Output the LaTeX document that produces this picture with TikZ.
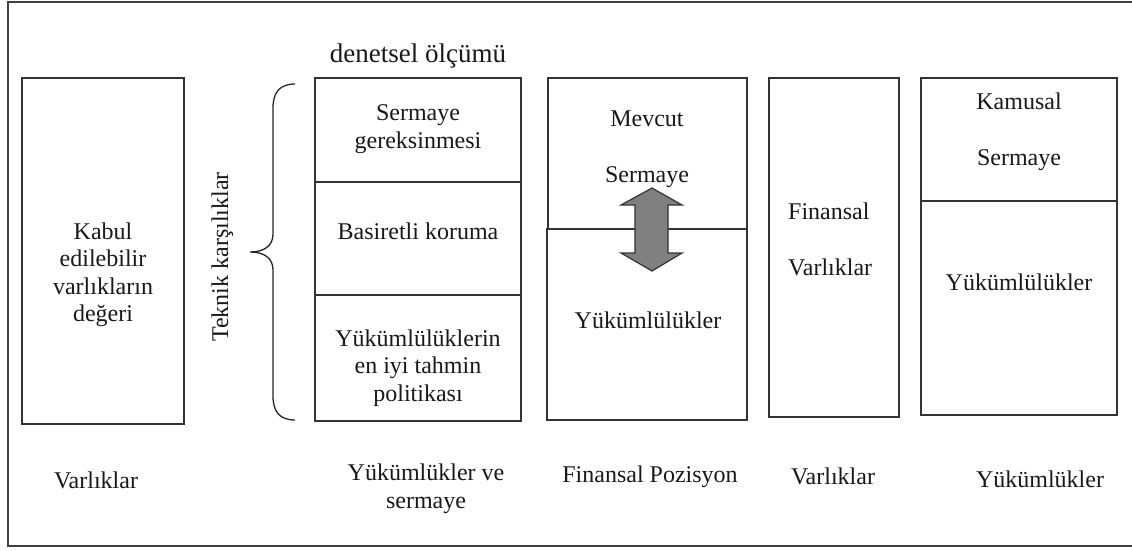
\documentclass[tikz,border=0pt]{standalone}
\usepackage{fontspec}
\setmainfont{Liberation Serif}
\begin{document}
\begin{tikzpicture}[x=1pt,y=-1pt,
  box/.style={draw=black!80,line width=1.2pt,inner sep=0pt,fill=none},
  lbl/.style={font=\fontsize{24}{27.5}\selectfont,text=black!90,inner sep=0pt,align=center},
  frame/.style={draw=black!75,line width=2.2pt}]
\useasboundingbox (0,0) rectangle (1132,550);
\fill[white] (0,0) rectangle (1132,550);
% outer frame (right side cut off)
\draw[frame] (1140,2) -- (8,2) -- (8,546) -- (1140,546);
% boxes
\node[box,minimum width=162pt,minimum height=346pt] (b1) at (103,251) {};
\node[box,minimum width=206pt,minimum height=104pt] (b2a) at (418,130) {};
\node[box,minimum width=206pt,minimum height=113pt] (b2b) at (418,238.5) {};
\node[box,minimum width=206pt,minimum height=126pt] (b2c) at (418,358) {};
\node[box,minimum width=199pt,minimum height=151pt] (b3a) at (647.5,153.5) {};
\node[box,minimum width=200pt,minimum height=191pt] (b3b) at (647,324.5) {};
\node[box,minimum width=130pt,minimum height=339pt] (b4) at (834,247.5) {};
\node[box,minimum width=196pt,minimum height=123pt] (b5a) at (1019,139.5) {};
\node[box,minimum width=196pt,minimum height=214pt] (b5b) at (1019,308) {};
% double arrow
\draw[draw=black!80,line width=1.2pt,fill=black!50,line join=miter]
  (652,188) -- (682,205) -- (668,205) -- (668,253) -- (682,253) -- (652,271)
  -- (621,253) -- (635,253) -- (635,205) -- (621,205) -- cycle;
% brace
\draw[black!85,line width=1.3pt]
  (295,84) .. controls (280,84) and (273,92) .. (273,108) -- (273,234)
  .. controls (273,246) and (264,252) .. (250,252)
  .. controls (264,252) and (273,258) .. (273,270) -- (273,396)
  .. controls (273,412) and (280,420) .. (295,420);
% texts
\node[lbl,font=\fontsize{27}{30}\selectfont,anchor=base] (t0) at (418,62) {denetsel ölçümü};
\node[lbl,rotate=90,anchor=base] (tk) at (228,257) {Teknik karşılıklar};
\node[lbl] (t1) at (103,275) {Kabul\\edilebilir\\varlıkların\\değeri};
\node[lbl] (t2) at (418,129) {Sermaye\\gereksinmesi};
\node[lbl,anchor=base] (t3) at (418,239) {Basiretli koruma};
\node[lbl] (t4) at (418,368) {Yükümlülüklerin\\en iyi tahmin\\politikası};
\node[lbl] (t5) at (647,149.5) {Mevcut\\[28.5pt]Sermaye};
\node[lbl,anchor=base] (t6) at (648,328) {Yükümlülükler};
\node[lbl,align=left,anchor=west] (t7) at (788,239.5) {Finansal\\[28.5pt]Varlıklar};
\node[lbl] (t8) at (1019,131.5) {Kamusal\\[28.5pt]Sermaye};
\node[lbl,anchor=base] (t9) at (1019,290) {Yükümlülükler};
% bottom labels
\node[lbl,anchor=base] (l1) at (96,488) {Varlıklar};
\node[lbl] (l2) at (426,489) {Yükümlükler ve\\sermaye};
\node[lbl,anchor=base] (l3) at (650,482) {Finansal Pozisyon};
\node[lbl,anchor=base] (l4) at (833,484) {Varlıklar};
\node[lbl,anchor=base] (l5) at (1040,487) {Yükümlükler};
\end{tikzpicture}
\end{document}
